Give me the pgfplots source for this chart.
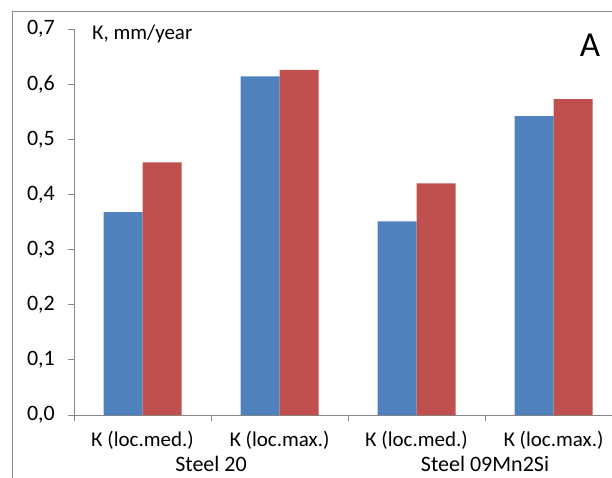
\documentclass[border=0pt]{standalone}
\usepackage{fontspec}
\setmainfont{Carlito}
\usepackage{pgfplots}
\pgfplotsset{compat=1.18}
\definecolor{barblue}{HTML}{4F81BD}
\definecolor{barred}{HTML}{C0504D}
\definecolor{axgray}{HTML}{868686}
\definecolor{framegray}{HTML}{8C8C8C}
\begin{document}
\begin{tikzpicture}[x=1pt,y=1pt]
\useasboundingbox (0,0) rectangle (612,477);
\clip (0,0) rectangle (612,477);
\draw[framegray, line width=1pt] (12,-5) -- (12,465) -- (620,465);
\begin{axis}[
  at={(74pt,62pt)}, anchor=south west,
  scale only axis, width=548pt, height=386pt,
  clip=false,
  xmin=-0.5, xmax=3.5, ymin=0, ymax=0.7,
  axis x line*=bottom, axis y line*=left,
  axis line style={axgray, line width=0.8pt, -},
  tick align=outside,
  major tick length=6pt,
  ybar=0pt, bar width=39pt,
  xtick={0,1,2,3},
  xticklabels={К (loc.med.), К (loc.max.), К (loc.med.), К (loc.max.)},
  x tick style={draw=none},
  extra x ticks={-0.5,0.5,1.5,2.5},
  extra x tick labels={},
  extra x tick style={xtick style={draw=axgray, line width=0.8pt}},
  xticklabel style={font=\fontsize{21}{25}\selectfont, anchor=base, inner sep=0pt, yshift=-25pt},
  ytick={0,0.1,0.2,0.3,0.4,0.5,0.6,0.7},
  y tick style={draw=axgray, line width=0.8pt},
  yticklabel style={font=\fontsize{22}{26}\selectfont, anchor=east, inner sep=0pt, xshift=-13pt},
  /pgf/number format/.cd, fixed, fixed zerofill, precision=1, use comma, assume math mode=true,
]
\addplot[fill=barblue, draw=none] coordinates {(0,0.368) (1,0.614) (2,0.351) (3,0.542)};
\addplot[fill=barred, draw=none] coordinates {(0,0.458) (1,0.626) (2,0.420) (3,0.573)};
\node[anchor=base, font=\fontsize{22}{26}\selectfont, inner sep=0pt] at ([yshift=-56.5pt]axis cs:0.5,0) {Steel 20};
\node[anchor=base, font=\fontsize{22}{26}\selectfont, inner sep=0pt] at ([yshift=-56.5pt]axis cs:2.5,0) {Steel 09Mn2Si};
\end{axis}
\node[anchor=base west, font=\fontsize{21}{25}\selectfont, inner sep=0pt] at (92,437.5) {К, mm/year};
\node[anchor=base, font=\fontsize{35}{40}\selectfont, inner sep=0pt] at (590,420) {A};
\end{tikzpicture}
\end{document}
